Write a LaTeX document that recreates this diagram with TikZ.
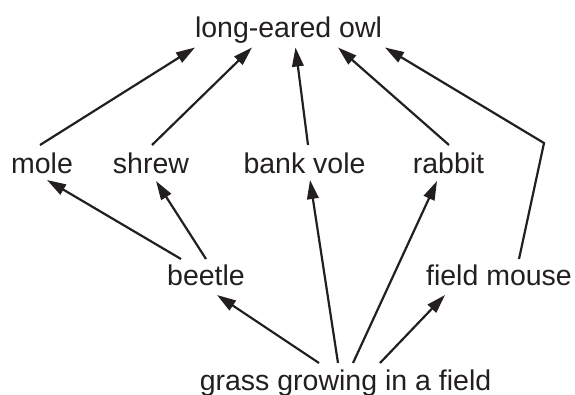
\documentclass[tikz,border=0pt]{standalone}
\usepackage{fontspec}
\setmainfont{Liberation Sans}
\usetikzlibrary{arrows.meta,calc}
\definecolor{ink}{RGB}{35,31,32}
\begin{document}
\begin{tikzpicture}[x=1pt,y=-1pt,
  species/.style={anchor=base,inner sep=0pt,text=ink,
    font=\fontsize{28.5}{34}\selectfont},
  feeds/.style={draw=ink,line width=2.2pt,
    -{Triangle[length=19pt,width=11.5pt]}}]
\useasboundingbox (0,0) rectangle (575,394);

% organisms, placed by baseline
\node[species] (owl)    at (288.5,37) {long-eared owl};
\node[species] (mole)   at (42,173)   {mole};
\node[species] (shrew)  at (151,173)  {shrew};
\node[species] (vole)   at (304.5,173){bank vole};
\node[species] (rabbit) at (448.5,173){rabbit};
\node[species] (beetle) at (206,285)  {beetle};
\node[species] (mouse)  at (499,285)  {field mouse};
\node[species] (grass)  at (345.5,390){grass growing in a field};
\coordinate (bend) at (544,143);

% predators of the top level
\draw[feeds] ($(mole.base)+(-2,-28)$)   -- ($(owl.base)+(-93.5,10.5)$);
\draw[feeds] ($(shrew.base)+(1,-28)$)   -- ($(owl.base)+(-36.5,10.5)$);
\draw[feeds] ($(vole.base)+(3.5,-28)$)  -- ($(owl.base)+(7,10.5)$);
\draw[feeds] ($(rabbit.base)+(0.5,-28)$)-- ($(owl.base)+(49.5,10.5)$);
\draw[feeds] ($(mouse.base)+(20,-26)$) -- (bend) -- ($(owl.base)+(96.5,10.5)$);

% beetle eaten by mole and shrew
\draw[feeds] ($(beetle.base)+(-25,-26)$) -- ($(mole.base)+(5,7)$);
\draw[feeds] ($(beetle.base)+(0,-26)$)   -- ($(shrew.base)+(5,8)$);

% grass at the base of the chain
\draw[feeds] ($(grass.base)+(-26.5,-27)$) -- ($(beetle.base)+(11,10)$);
\draw[feeds] ($(grass.base)+(-7.5,-27)$)  -- ($(vole.base)+(5.5,7)$);
\draw[feeds] ($(grass.base)+(7.5,-27)$)   -- ($(rabbit.base)+(-11.5,8)$);
\draw[feeds] ($(grass.base)+(34.5,-27)$)  -- ($(mouse.base)+(-54,10)$);
\end{tikzpicture}
\end{document}
